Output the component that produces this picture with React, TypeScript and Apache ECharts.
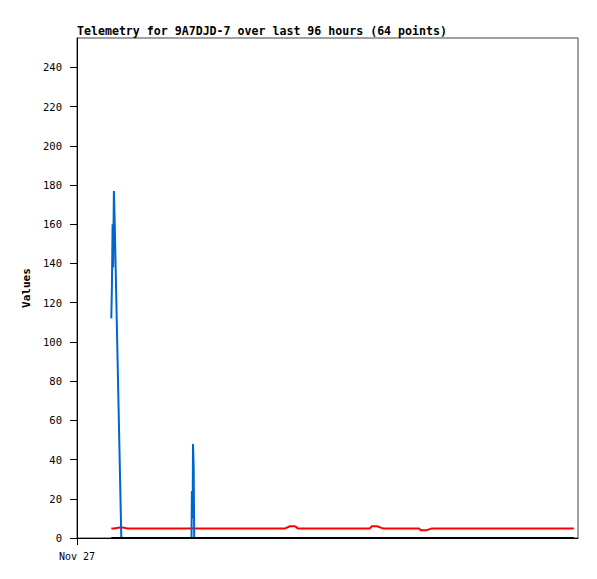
import React, { useEffect, useRef } from "react";
import * as echarts from "echarts";

// hours since Nov 27 00:00
const hours: number[] = [
  6.57, 6.69, 6.82, 6.92, 7.07, 7.2, 8.49,
  9.6, 11.5, 13.4, 15.3, 17.2, 19.1, 21.0,
  21.94, 22.02, 22.15, 22.23, 22.36, 22.46,
  24.0, 25.8, 27.5, 29.3, 31.0, 32.8, 34.6, 36.3, 38.1,
  39.9, 40.8, 41.8, 42.3,
  44.1, 45.9, 47.7, 49.5, 51.2, 53.0, 54.6,
  56.1, 56.5, 57.5, 58.6,
  60.3, 62.0, 63.8,
  65.5, 65.9, 66.9, 68.0,
  69.8, 71.6, 73.4, 75.2, 77.0, 78.8, 80.6, 82.4, 84.2, 86.0,
  88.5, 91.5, 95.2,
];

const blueValues: number[] = [
  112, 128, 160, 138, 177, 164, 0,
  0, 0, 0, 0, 0, 0, 0,
  0, 24, 10, 48, 36, 0,
  0, 0, 0, 0, 0, 0, 0, 0, 0,
  0, 0, 0, 0,
  0, 0, 0, 0, 0, 0, 0,
  0, 0, 0, 0,
  0, 0, 0,
  0, 0, 0, 0,
  0, 0, 0, 0, 0, 0, 0, 0, 0, 0,
  0, 0, 0,
];

const redValues: number[] = [
  4.9, 4.9, 4.9, 4.9, 4.9, 4.9, 5.5,
  4.9, 4.9, 4.9, 4.9, 4.9, 4.9, 4.9,
  4.9, 4.9, 4.9, 4.9, 4.9, 4.9,
  4.9, 4.9, 4.9, 4.9, 4.9, 4.9, 4.9, 4.9, 4.9,
  4.9, 6.0, 6.0, 4.9,
  4.9, 4.9, 4.9, 4.9, 4.9, 4.9, 4.9,
  4.9, 6.0, 6.0, 4.9,
  4.9, 4.9, 4.9,
  4.9, 3.9, 3.9, 4.9,
  4.9, 4.9, 4.9, 4.9, 4.9, 4.9, 4.9, 4.9, 4.9, 4.9,
  4.9, 4.9, 4.9,
];

const blackValues: number[] = hours.map(() => 0);

const yTicks: number[] = [0, 20, 40, 60, 80, 100, 120, 140, 160, 180, 200, 220, 240];
const xTicks: number[] = [0];
const xTickLabels: string[] = ["Nov 27"];

const TITLE = "Telemetry for 9A7DJD-7 over last 96 hours (64 points)";
const MONO = "'DejaVu Sans Mono', 'Liberation Mono', monospace";

export default function App() {
  const ref = useRef<HTMLDivElement>(null);
  useEffect(() => {
    if (!ref.current) return;
    const chart = echarts.init(ref.current, undefined, { renderer: "svg" });
    const pair = (vals: number[]) => hours.map((h, i) => [h, vals[i]]);
    chart.setOption({
      animation: false,
      backgroundColor: "#ffffff",
      title: {
        text: TITLE,
        left: 77,
        top: 25,
        padding: 0,
        textStyle: { fontFamily: MONO, fontSize: 11.6, fontWeight: "bold", color: "#000" },
      },
      grid: {
        left: 77,
        right: 19,
        top: 38,
        bottom: 41,
        show: true,
        borderColor: "#444",
        borderWidth: 1,
        backgroundColor: "transparent",
      },
      xAxis: {
        type: "value",
        min: 0,
        max: 96,
        splitLine: { show: false },
        axisLine: { show: true, onZero: false, lineStyle: { color: "#000", width: 1 } },
        axisTick: { show: true, length: 7, customValues: xTicks, lineStyle: { color: "#000" } },
        axisLabel: {
          customValues: xTicks,
          formatter: (v: number) => xTickLabels[xTicks.indexOf(v)] ?? "",
          margin: 13,
          fontFamily: MONO,
          fontSize: 10,
          color: "#000",
        },
      },
      yAxis: {
        type: "value",
        min: 0,
        max: 255,
        name: "Values",
        nameLocation: "middle",
        nameGap: 38,
        nameTextStyle: { fontFamily: MONO, fontSize: 11, fontWeight: "bold", color: "#000" },
        splitLine: { show: false },
        axisLine: { show: true, lineStyle: { color: "#000", width: 1 } },
        axisTick: { show: true, length: 7, customValues: yTicks, lineStyle: { color: "#000" } },
        axisLabel: {
          customValues: yTicks,
          margin: 15,
          fontFamily: MONO,
          fontSize: 10.5,
          color: "#000",
        },
      },
      series: [
        {
          type: "line",
          data: pair(redValues),
          showSymbol: false,
          lineStyle: { color: "#ff0000", width: 2 },
          z: 2,
        },
        {
          type: "line",
          data: pair(blueValues),
          showSymbol: false,
          lineStyle: { color: "#0066cc", width: 2 },
          z: 3,
        },
        {
          type: "line",
          data: pair(blackValues),
          showSymbol: false,
          lineStyle: { color: "#000000", width: 2 },
          z: 4,
        },
      ],
    });
    return () => chart.dispose();
  }, []);
  return (
    <div
      ref={ref}
      style={{ position: "fixed", left: 0, top: 0, width: 597, height: 579, background: "#fff" }}
    />
  );
}
